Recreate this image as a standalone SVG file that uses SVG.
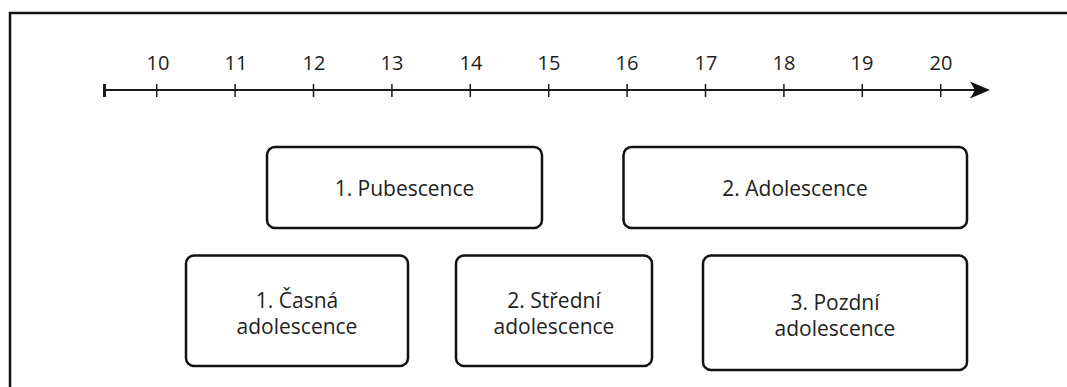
<svg xmlns="http://www.w3.org/2000/svg" width="1067" height="387" viewBox="0 0 1067 387">
  <style>
    .frame { fill: none; stroke: #111; stroke-width: 2.5; }
    .axis { stroke: #1a1a1a; stroke-width: 2.2; fill: none; }
    .tick { stroke: #1a1a1a; stroke-width: 1.5; }
    .box { fill: #fff; stroke: #111; stroke-width: 2.5; }
    .num { font-family: "Open Sans", "Noto Sans", sans-serif; font-size: 20px; fill: #1e1e1e; text-anchor: middle; }
    .lbl { font-family: "Open Sans", "Noto Sans", sans-serif; font-size: 21px; fill: #1e1e1e; text-anchor: middle; }
  </style>
  <rect width="1067" height="387" fill="#fff"/>
  <rect class="frame" x="10" y="13" width="1100" height="420"/>
  <g id="axis">
    <line class="axis" x1="104" y1="90" x2="976" y2="90"/>
    <line x1="104.5" y1="84" x2="104.5" y2="97" stroke="#1a1a1a" stroke-width="3"/>
    <polygon points="990,90 970,81.5 975,90 970,98.5" fill="#111"/>
    <g class="tick">
      <line x1="156.7" y1="84" x2="156.7" y2="97"/>
      <line x1="235.1" y1="84" x2="235.1" y2="97"/>
      <line x1="313.5" y1="84" x2="313.5" y2="97"/>
      <line x1="391.9" y1="84" x2="391.9" y2="97"/>
      <line x1="470.3" y1="84" x2="470.3" y2="97"/>
      <line x1="548.7" y1="84" x2="548.7" y2="97"/>
      <line x1="627.1" y1="84" x2="627.1" y2="97"/>
      <line x1="705.5" y1="84" x2="705.5" y2="97"/>
      <line x1="783.9" y1="84" x2="783.9" y2="97"/>
      <line x1="862.3" y1="84" x2="862.3" y2="97"/>
      <line x1="940.7" y1="84" x2="940.7" y2="97"/>
    </g>
    <g class="num">
      <text x="158" y="70">10</text>
      <text x="236" y="70">11</text>
      <text x="314" y="70">12</text>
      <text x="392" y="70">13</text>
      <text x="471" y="70">14</text>
      <text x="549" y="70">15</text>
      <text x="627" y="70">16</text>
      <text x="706" y="70">17</text>
      <text x="784" y="70">18</text>
      <text x="862" y="70">19</text>
      <text x="941" y="70">20</text>
    </g>
  </g>
  <g id="pubescence">
    <rect class="box" x="267" y="147" width="275" height="81" rx="8"/>
    <text class="lbl" x="404.5" y="196">1. Pubescence</text>
  </g>
  <g id="adolescence">
    <rect class="box" x="623.5" y="147" width="343.5" height="81" rx="8"/>
    <text class="lbl" x="795" y="196">2. Adolescence</text>
  </g>
  <g id="casna">
    <rect class="box" x="186" y="255.5" width="222" height="110.5" rx="8"/>
    <text class="lbl" x="297" y="308">1. Časná</text>
    <text class="lbl" x="297" y="334">adolescence</text>
  </g>
  <g id="stredni">
    <rect class="box" x="456" y="255.5" width="196" height="110.5" rx="8"/>
    <text class="lbl" x="554" y="308">2. Střední</text>
    <text class="lbl" x="554" y="334">adolescence</text>
  </g>
  <g id="pozdni">
    <rect class="box" x="703" y="255.5" width="264" height="114.5" rx="8"/>
    <text class="lbl" x="835" y="310">3. Pozdní</text>
    <text class="lbl" x="835" y="336">adolescence</text>
  </g>
  <g id="connectors"></g>
</svg>
